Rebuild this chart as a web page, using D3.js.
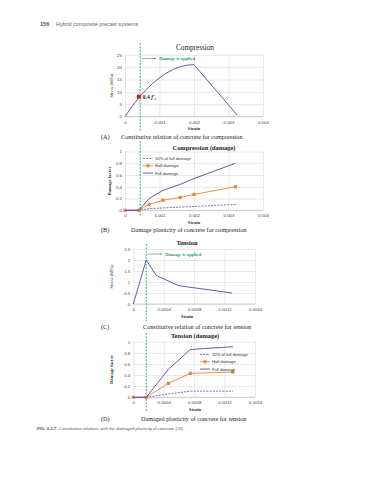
<!DOCTYPE html>
<html><head><meta charset="utf-8">
<script src="https://cdn.jsdelivr.net/npm/d3@7"></script>
<style>body{margin:0;background:#fff}svg{display:block}</style>
</head><body>
<svg id="c" width="375" height="480"></svg>
<script>
// ---- data ----
const compStrain = [0, 0.0002, 0.0004, 0.0006, 0.0008, 0.001, 0.0012, 0.0014, 0.0016, 0.0018, 0.002, 0.00325];
const compStress = [0, 4.0, 7.6, 10.7, 13.4, 15.7, 17.6, 19.1, 20.2, 20.8, 21.0, 0.6];
const compPoint = [0.0004, 8.0];
const compDamageStrain = [0, 0.0004, 0.0007, 0.0011, 0.0016, 0.002, 0.0032];
const compFull = [0, 0, 0.2, 0.34, 0.44, 0.54, 0.8];
const compHalf = [0, 0, 0.1, 0.17, 0.22, 0.27, 0.4];
const compTen = [0, 0, 0.03, 0.04, 0.055, 0.065, 0.1];
const tenStrain = [0, 0.00017, 0.0003, 0.0006, 0.0013];
const tenStress = [0, 2.0, 1.3, 0.83, 0.5];
const tenDamageStrain = [0, 0.00017, 0.00046, 0.00075, 0.00131];
const tenFull = [0, 0, 0.5, 0.86, 0.91];
const tenHalf = [0, 0, 0.25, 0.43, 0.455];
const tenTen = [0, 0, 0.06, 0.11, 0.11];
const damageAppliedComp = 0.00044;
const damageAppliedTen = 0.00017;
const compXTicks = [0, 0.001, 0.002, 0.003, 0.004];
const compXLabels = ["0", "0.001", "0.002", "0.003", "0.004"];
const tenXTicks = [0, 0.0004, 0.0008, 0.0012, 0.0016];
const tenXLabels = ["0", "0.0004", "0.0008", "0.0012", "0.0016"];
const stressCompTicks = [0, 5, 10, 15, 20, 25];
const stressTenTicks = [0, 0.5, 1, 1.5, 2, 2.5];
const damageTicks = [0, 0.2, 0.4, 0.6, 0.8, 1];
const legendLabels = ["10% of full damage", "Half damage", "Full damage"];

const svg = d3.select("#c");
const SERIF = "'Liberation Serif','Times New Roman',serif";
const SANS = "'Liberation Sans',Arial,sans-serif";
const BLUE = "#4b4bb4", ORANGE = "#e4883a", PURPLE = "#7b5cb8", GREEN = "#2ea35a", GRID = "#d9d9d9";

// header
svg.append("text").attr("x", 40).attr("y", 26).attr("font-family", SANS).attr("font-size", 5.6).attr("font-weight", "bold").attr("fill", "#555").text("156");
svg.append("text").attr("x", 56).attr("y", 26).attr("font-family", SANS).attr("font-size", 5.4).attr("fill", "#666").text("Hybrid composite precast systems");

function panel(o) {
  const x = d3.scaleLinear().domain(o.xd).range(o.xr);
  const y = d3.scaleLinear().domain(o.yd).range(o.yr);
  const g = svg.append("g");
  const w = o.xr[1] - o.xr[0], h = o.yr[0] - o.yr[1];
  const ya = g.append("g").attr("transform", `translate(${o.xr[0]},0)`)
    .call(d3.axisLeft(y).tickValues(o.yt).tickSize(-w).tickPadding(3).tickFormat(d => String(d)));
  const xa = g.append("g").attr("transform", `translate(0,${o.yr[0]})`)
    .call(d3.axisBottom(x).tickValues(o.xt).tickSize(-h).tickPadding(4).tickFormat((d, i) => o.xl[i]));
  [ya, xa].forEach(a => {
    a.select(".domain").remove();
    a.selectAll("line").attr("stroke", GRID).attr("stroke-width", 0.6);
    a.selectAll("text").attr("font-family", SANS).attr("font-size", 4.4).attr("fill", "#444");
  });
  g.append("line").attr("x1", o.xr[0]).attr("x2", o.xr[1]).attr("y1", o.yr[0]).attr("y2", o.yr[0]).attr("stroke", "#bfbfbf").attr("stroke-width", 0.7);
  g.append("text").attr("x", o.tx).attr("y", o.ty).attr("text-anchor", "middle").attr("font-family", SERIF)
    .attr("font-size", o.tfs).attr("font-weight", o.tbold ? "bold" : "normal").attr("fill", "#222").text(o.title);
  g.append("text").attr("transform", `translate(${o.ylx},${(o.yr[0] + o.yr[1]) / 2}) rotate(-90)`).attr("text-anchor", "middle")
    .attr("font-family", SERIF).attr("font-size", 4.6).attr("font-weight", o.ylbold ? "bold" : "normal").attr("fill", "#333").text(o.ylabel);
  g.append("text").attr("x", o.xlx).attr("y", o.yr[0] + 13.5).attr("text-anchor", "middle")
    .attr("font-family", SERIF).attr("font-size", 4.6).attr("font-weight", "bold").attr("fill", "#333").text("Strain");
  g.append("line").attr("x1", x(o.dmg)).attr("x2", x(o.dmg)).attr("y1", o.d0).attr("y2", o.d1)
    .attr("stroke", GREEN).attr("stroke-width", 0.9).attr("stroke-dasharray", "2,1.3");
  svg.append("text").attr("x", 101).attr("y", o.cy).attr("font-family", SERIF).attr("font-size", 6.2).attr("fill", "#222").text(o.clab);
  svg.append("text").attr("x", o.cx).attr("y", o.cy).attr("font-family", SERIF).attr("font-size", 6.2).attr("fill", "#222").text(o.caption);
  return {x, y, g};
}

function damageNote(p, yy, xd) {
  const x0 = p.x(xd);
  p.g.append("line").attr("x1", x0 + 1).attr("x2", x0 + 14).attr("y1", yy).attr("y2", yy).attr("stroke", "#4a7fb5").attr("stroke-width", 0.6);
  p.g.append("path").attr("d", `M${x0 + 14},${yy - 1.2}L${x0 + 16},${yy}L${x0 + 14},${yy + 1.2}Z`).attr("fill", "#4a7fb5");
  p.g.append("text").attr("x", x0 + 19).attr("y", yy + 1.6).attr("font-family", SERIF).attr("font-size", 4.6).attr("font-weight", "bold").attr("fill", GREEN).text("Damage is applied");
}

function series(p, xs, ys, color, dash, markers) {
  const pts = xs.map((d, i) => [d, ys[i]]);
  const line = d3.line().x(d => p.x(d[0])).y(d => p.y(d[1]));
  p.g.append("path").datum(pts).attr("d", line).attr("fill", "none").attr("stroke", color).attr("stroke-width", 0.9)
    .attr("stroke-dasharray", dash || null);
  if (markers) {
    p.g.selectAll(null).data(pts).enter().append("rect")
      .attr("x", d => p.x(d[0]) - 1.6).attr("y", d => p.y(d[1]) - 1.6).attr("width", 3.2).attr("height", 3.2).attr("fill", color);
  }
}

function legend(p, lx, ly) {
  const items = [[PURPLE, "2,1.2", false], [ORANGE, null, true], [BLUE, null, false]];
  items.forEach((it, i) => {
    const yy = ly + i * 7.3;
    p.g.append("line").attr("x1", lx).attr("x2", lx + 10).attr("y1", yy).attr("y2", yy).attr("stroke", it[0]).attr("stroke-width", 0.9).attr("stroke-dasharray", it[1]);
    if (it[2]) p.g.append("rect").attr("x", lx + 3.5).attr("y", yy - 1.5).attr("width", 3).attr("height", 3).attr("fill", it[0]);
    p.g.append("text").attr("x", lx + 12).attr("y", yy + 1.5).attr("font-family", SANS).attr("font-size", 4.2).attr("fill", "#333").text(legendLabels[i]);
  });
}

// (A)
const pA = panel({xd: [0, 0.004], xr: [125, 263], yd: [0, 25], yr: [116.5, 54.8], xt: compXTicks, xl: compXLabels, yt: stressCompTicks,
  title: "Compression", tx: 195, ty: 49.5, tfs: 7.2, tbold: false, ylabel: "Stress (MPa)", ylx: 113, xlx: 194, dmg: damageAppliedComp, d0: 43, d1: 132,
  clab: "(A)", caption: "Constitutive relation of concrete for compression", cx: 121, cy: 139});
series(pA, compStrain, compStress, BLUE);
damageNote(pA, 58.5, damageAppliedComp);
pA.g.append("rect").attr("x", pA.x(compPoint[0]) - 2).attr("y", pA.y(compPoint[1]) - 2).attr("width", 4).attr("height", 4).attr("fill", "#d01c1c");
const lab = pA.g.append("text").attr("x", pA.x(compPoint[0]) + 4).attr("y", pA.y(compPoint[1]) + 1.8).attr("font-family", SERIF).attr("font-size", 5.6).attr("font-weight", "bold").attr("fill", "#222");
lab.append("tspan").text("0.4");
lab.append("tspan").attr("font-style", "italic").attr("dx", 1.5).text("f");
lab.append("tspan").text("′");
lab.append("tspan").attr("font-size", 3.8).attr("dy", 1.2).attr("font-style", "italic").text("c");

// (B)
const pB = panel({xd: [0, 0.004], xr: [125, 263], yd: [0, 1], yr: [210.3, 151.5], xt: compXTicks, xl: compXLabels, yt: damageTicks,
  title: "Compression (damage)", tx: 204, ty: 149.5, tfs: 6.4, tbold: true, ylabel: "Damage factor", ylbold: true, ylx: 111, xlx: 194, dmg: damageAppliedComp, d0: 141, d1: 217,
  clab: "(B)", caption: "Damage plasticity of concrete for compression", cx: 131, cy: 231.5});
series(pB, compDamageStrain, compTen, PURPLE, "2,1.2");
series(pB, compDamageStrain, compHalf, ORANGE, null, true);
series(pB, compDamageStrain, compFull, BLUE);
legend(pB, 143, 158.5);

// (C)
const pC = panel({xd: [0, 0.0016], xr: [133.3, 255], yd: [0, 2.5], yr: [304, 249], xt: tenXTicks, xl: tenXLabels, yt: stressTenTicks,
  title: "Tension", tx: 187, ty: 244.5, tfs: 6.4, tbold: true, ylabel: "Stress (MPa)", ylx: 113, xlx: 187, dmg: damageAppliedTen, d0: 244, d1: 321,
  clab: "(C)", caption: "Constitutive relation of concrete for tension", cx: 143, cy: 328.5});
series(pC, tenStrain, tenStress, BLUE);
damageNote(pC, 254, damageAppliedTen);

// (D)
const pD = panel({xd: [0, 0.0016], xr: [133.3, 255], yd: [0, 1], yr: [397.3, 341.7], xt: tenXTicks, xl: tenXLabels, yt: damageTicks,
  title: "Tension (damage)", tx: 195, ty: 338, tfs: 6.4, tbold: true, ylabel: "Damage factor", ylbold: true, ylx: 113, xlx: 195, dmg: damageAppliedTen, d0: 333, d1: 412,
  clab: "(D)", caption: "Damaged plasticity of concrete for tension", cx: 141, cy: 421});
series(pD, tenDamageStrain, tenTen, PURPLE, "2,1.2");
series(pD, tenDamageStrain, tenHalf, ORANGE, null, true);
series(pD, tenDamageStrain, tenFull, BLUE);
legend(pD, 200, 354.5);

// footer
const f = svg.append("text").attr("x", 37).attr("y", 429.5).attr("font-family", SANS).attr("font-size", 4.3).attr("fill", "#555");
f.append("tspan").attr("font-weight", "bold").text("FIG. 3.3.7");
f.append("tspan").attr("dx", 3).text("Constitutive relations with the damaged plasticity of concrete ");
f.append("tspan").attr("fill", "#3a78c2").text("[18]");
f.append("tspan").text(".");
</script>
</body></html>
